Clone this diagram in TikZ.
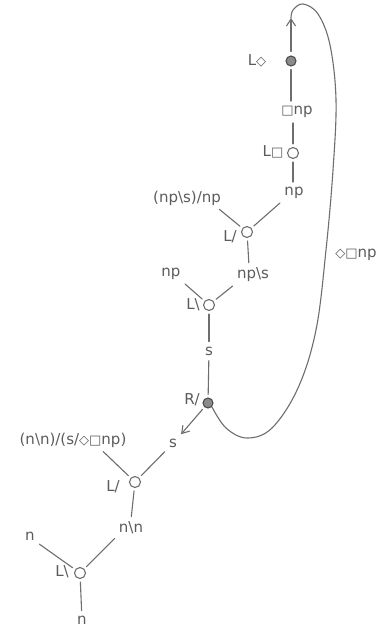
\documentclass[tikz,border=0pt]{standalone}
\usepackage{fontspec}
\setmainfont{DejaVu Sans}
\usetikzlibrary{arrows.meta}
\definecolor{pencil}{HTML}{6E6E6E}
\definecolor{lead}{HTML}{5C5C5C}
% modal symbols, a little smaller than the letters
\newcommand{\dia}{{\fontsize{13pt}{13pt}\selectfont ◇}}
\newcommand{\bx}{{\fontsize{13pt}{13pt}\selectfont □}}
\newcommand{\bs}{\textbackslash}
\begin{document}
\begin{tikzpicture}[x=1pt,y=-1pt,
  every node/.style={text=lead, font=\fontsize{15pt}{17pt}\selectfont},
  txt/.style={inner sep=2pt},
  rule/.style={inner sep=1pt},
  link/.style={draw=pencil, line width=1.1pt, line cap=round},
  gap/.style={shorten >=3pt, shorten <=3pt},
  hole/.style={circle, draw=pencil, line width=1.1pt, minimum size=11pt, inner sep=0pt},
  tensor/.style={circle, draw=pencil!70!black, fill=pencil!80, line width=1.1pt, minimum size=10pt, inner sep=0pt},
  barb/.style={-{Straight Barb[length=7pt,width=9pt]}}]
\useasboundingbox (0,0) rectangle (384,636);
\fill[white] (0,0) rectangle (384,636);

% links
\node[tensor] (c1) at (291,61) {};
\node[hole]   (c2) at (293,153) {};
\node[hole]   (c3) at (247,232) {};
\node[hole]   (c4) at (209,305) {};
\node[tensor] (c5) at (208,403) {};
\node[hole]   (c6) at (135,482) {};
\node[hole]   (c7) at (80,573) {};

% rule names
\node[rule] (r1) at (257,61)  {L\dia};
\node[rule] (r2) at (273,152) {L\bx};
\node[rule] (r3) at (230,237) {L/};
\node[rule] (r4) at (193,305) {L\bs};
\node[rule] (r5) at (192,400) {R/};
\node[rule] (r6) at (113,487) {L/};
\node[rule] (r7) at (62,572)  {L\bs};

% formulas
\node[txt] (fbnp)  at (297,112) {\bx np};
\node[txt] (fnp1)  at (294,193) {np};
\node[txt] (fnpsnp) at (187,198) {(np\bs s)/np};
\node[txt] (fnp2)  at (171,274) {np};
\node[txt] (fnps)  at (253,275) {np\bs s};
\node[txt] (fs1)   at (209,351) {s};
\node[txt] (fs2)   at (173,443) {s};
\node[txt] (fbig)  at (73,440)  {(n\bs n)/(s/\dia\bx np)};
\node[txt] (fnn)   at (131,528) {n\bs n};
\node[txt] (fn1)   at (30,536)  {n};
\node[txt] (fn2)   at (82,620)  {n};
\node[txt] (fdbnp) at (356,255) {\dia\bx np};

\coordinate (tip) at (291,18);

% connectors
\draw[link,barb,shorten <=4pt] (c1) -- (tip);
\draw[link,gap] (c1) -- (c1 |- fbnp.north);
\draw[link,gap] (c2 |- fbnp.south) -- (c2);
\draw[link,gap] (c2) -- (c2 |- fnp1.north);
\draw[link,gap] (fnp1.south west) -- (c3);
\draw[link,gap] ([xshift=-6pt]fnpsnp.south east) -- (c3);
\draw[link,gap] (c3) -- ([xshift=-4pt]fnps.north);
\draw[link,gap] (fnps.south west) -- (c4);
\draw[link,gap] (fnp2.south east) -- (c4);
\draw[link,gap] (c4) -- (fs1);
\draw[link,gap] (fs1) -- (c5);
\draw[link,barb,gap] (c5) -- (fs2.north east);
\draw[link,gap] (fs2.south west) -- (c6);
\draw[link,gap] ([xshift=28pt]fbig.south) -- (c6);
\draw[link,gap] (c6) -- (fnn.north);
\draw[link,gap] (fnn.south west) -- (c7);
\draw[link,gap] (fn1.south east) -- (c7);
\draw[link,gap] (c7) -- (fn2);

% the axiom loop from the R/ link back to the top
\draw[link] plot[smooth, tension=0.6] coordinates {
  (c5.-45) (226,428) (247,438) (272,428) (298,388) (316,330) (326,250)
  (333,170) (336,100) (330,45) (318,14) (303,4) (293,10) (tip)};
\end{tikzpicture}
\end{document}
